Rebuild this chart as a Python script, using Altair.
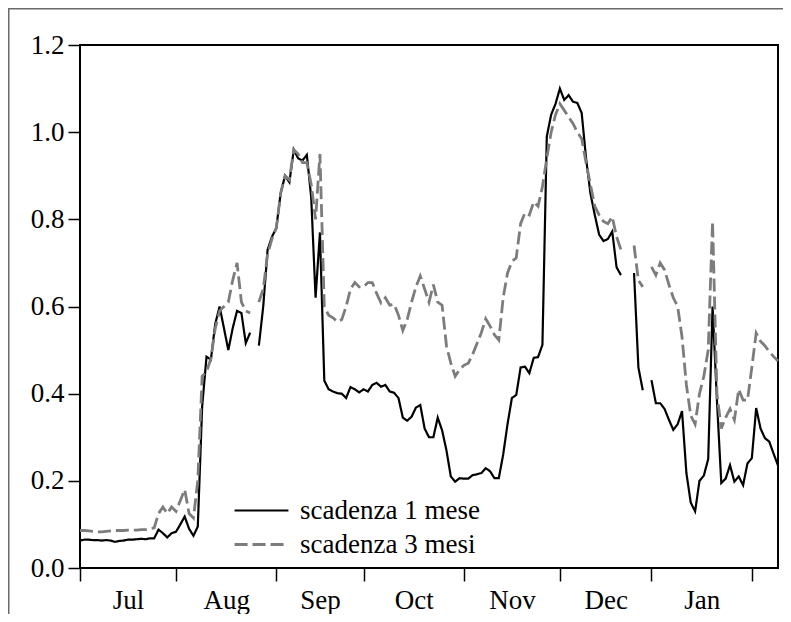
import altair as alt
import pandas as pd
import numpy as np

NA = np.nan

# business-day index (Jul 2007 -> early Feb 2008)
months = ["Jul", "Aug", "Sep", "Oct", "Nov", "Dec", "Jan"]
month_days = [22, 23, 20, 23, 22, 21, 23]

one_month = [
    0.063, 0.065, 0.065, 0.064, 0.064, 0.063, 0.064, 0.063, 0.060, 0.062,
    0.063, 0.065, 0.065, 0.066, 0.067, 0.066, 0.068, 0.068, 0.088, 0.080,
    0.070, 0.080, 0.083, 0.100, 0.118, 0.090, 0.074, 0.095, 0.370, 0.485,
    0.478, 0.560, 0.600, 0.550, 0.500, 0.550, 0.590, 0.585, 0.516, 0.540,
    NA, 0.510, 0.600, 0.730, 0.760, 0.780, 0.860, 0.900, 0.885, 0.960,
    0.940, 0.935, 0.948, 0.850, 0.620, 0.770, 0.430, 0.410, 0.405, 0.401,
    0.400, 0.390, 0.415, 0.410, 0.403, 0.410, 0.405, 0.420, 0.425, 0.416,
    0.420, 0.405, 0.402, 0.390, 0.345, 0.338, 0.347, 0.368, 0.374, 0.320,
    0.300, 0.300, 0.345, 0.316, 0.270, 0.210, 0.198, 0.206, 0.205, 0.205,
    0.213, 0.215, 0.218, 0.229, 0.222, 0.206, 0.206, 0.260, 0.330, 0.390,
    0.397, 0.460, 0.462, 0.447, 0.482, 0.484, 0.512, 0.990, 1.040, 1.065,
    1.100, 1.074, 1.085, 1.070, 1.067, 1.044, 0.940, 0.860, 0.810, 0.765,
    0.750, 0.755, 0.772, 0.690, 0.672, NA, NA, 0.677, 0.460, 0.408,
    NA, 0.431, 0.378, 0.378, 0.365, 0.340, 0.317, 0.330, 0.360, 0.218,
    0.150, 0.130, 0.200, 0.212, 0.250, 0.600, 0.385, 0.195, 0.205, 0.236,
    0.198, 0.210, 0.190, 0.240, 0.252, 0.367, 0.320, 0.298, 0.290, 0.262,
    0.235,
]

three_months = [
    0.086, 0.086, 0.085, 0.084, 0.083, 0.083, 0.084, 0.085, 0.086, 0.086,
    0.086, 0.087, 0.087, 0.087, 0.088, 0.088, 0.090, 0.092, 0.125, 0.140,
    0.125, 0.140, 0.130, 0.155, 0.180, 0.125, 0.115, 0.200, 0.440, 0.450,
    0.480, 0.550, 0.590, 0.600, 0.610, 0.660, 0.700, 0.610, 0.590, 0.585,
    NA, 0.610, 0.640, 0.720, 0.755, 0.780, 0.860, 0.900, 0.890, 0.960,
    0.950, 0.930, 0.930, 0.880, 0.800, 0.950, 0.600, 0.580, 0.574, 0.565,
    0.570, 0.600, 0.640, 0.655, 0.645, 0.645, 0.655, 0.655, 0.630, 0.608,
    0.620, 0.603, 0.605, 0.580, 0.545, 0.570, 0.610, 0.645, 0.670, 0.640,
    0.610, 0.650, 0.610, 0.603, 0.510, 0.470, 0.440, 0.455, 0.465, 0.470,
    0.490, 0.515, 0.540, 0.572, 0.555, 0.535, 0.523, 0.620, 0.677, 0.703,
    0.712, 0.790, 0.815, 0.810, 0.840, 0.830, 0.875, 0.940, 1.000, 1.040,
    1.065, 1.050, 1.035, 1.020, 1.000, 0.985, 0.930, 0.880, 0.830, 0.810,
    0.795, 0.790, 0.806, 0.760, 0.730, NA, NA, 0.740, 0.660, 0.645,
    NA, 0.691, 0.672, 0.700, 0.684, 0.650, 0.620, 0.600, 0.530, 0.420,
    0.350, 0.330, 0.400, 0.440, 0.500, 0.795, 0.400, 0.320, 0.345, 0.365,
    0.340, 0.410, 0.385, 0.385, 0.460, 0.539, 0.520, 0.510, 0.496, 0.485,
    0.475,
]

y_ticks = [0.0, 0.2, 0.4, 0.6, 0.8, 1.0, 1.2]
series_names = ["scadenza 1 mese", "scadenza 3 mesi"]

# month boundaries and label positions (in business-day index)
bounds = [0]
for d in month_days:
    bounds.append(bounds[-1] + d)
mids = [(bounds[k] + bounds[k + 1]) / 2 for k in range(len(months))]
tick_values = sorted(bounds + mids)

label_expr = ""
for m, v in zip(months, mids):
    label_expr += f"datum.value == {v} ? '{m}' : "
label_expr += "''"
bound_test = "indexof([" + ",".join(str(b) for b in bounds) + "], datum.value) >= 0"

n = len(one_month)
df = pd.DataFrame({
    "i": list(range(n)),
    series_names[0]: one_month,
    series_names[1]: three_months,
})

W, H = 698, 523
PAD = {"left": 72, "top": 37, "right": 5, "bottom": 46}
FONT = "Liberation Serif"

base = alt.Chart(df).transform_fold(series_names, as_=["serie", "val"])

legend_cfg = dict(
    title=None,
    orient="none",
    legendX=153,
    legendY=452,
    symbolType="stroke",
    symbolSize=2900,
    symbolStrokeWidth=2.8,
    clipHeight=27,
    rowPadding=6,
    labelOffset=10,
    labelLimit=0,
    labelFont=FONT,
    labelFontSize=27,
    labelColor="black",
    padding=0,
)

lines = base.mark_line(invalid="break-paths-filter-domains", strokeCap="butt").encode(
    x=alt.X(
        "i:Q",
        scale=alt.Scale(domain=[0, n - 1], nice=False, zero=False),
        axis=alt.Axis(
            values=tick_values,
            labelExpr=label_expr,
            tickOpacity={"condition": {"test": bound_test, "value": 1}, "value": 0},
            title=None,
            grid=False,
            domain=False,
            tickSize=13,
            tickWidth=1.5,
            tickColor="black",
            labelPadding=6,
            labelFont=FONT,
            labelFontSize=27,
            labelColor="black",
            labelFlush=False,
            labelOverlap=False,
        ),
    ),
    y=alt.Y(
        "val:Q",
        scale=alt.Scale(domain=[0, 1.2], nice=False, zero=True),
        axis=alt.Axis(
            values=y_ticks,
            format=".1f",
            title=None,
            grid=False,
            domain=False,
            tickSize=12,
            tickWidth=1.5,
            tickColor="black",
            labelPadding=4,
            labelFont=FONT,
            labelFontSize=27,
            labelColor="black",
            labelFlush=False,
            labelOverlap=False,
        ),
    ),
    color=alt.Color(
        "serie:N",
        scale=alt.Scale(domain=series_names, range=["black", "#7c7c7c"]),
        legend=alt.Legend(**legend_cfg),
    ),
    strokeDash=alt.StrokeDash(
        "serie:N",
        scale=alt.Scale(domain=series_names, range=[[1, 0], [13, 5]]),
        legend=alt.Legend(**legend_cfg),
    ),
    strokeWidth=alt.StrokeWidth(
        "serie:N",
        scale=alt.Scale(domain=series_names, range=[2.2, 2.8]),
        legend=None,
    ),
)

frame_df = pd.DataFrame({"k": [0]})
top_line = alt.Chart(frame_df).mark_rule(color="#6a6a6a", strokeWidth=1.5).encode(
    x=alt.value(-PAD["left"]), x2=alt.value(W + PAD["right"]), y=alt.value(-PAD["top"] + 0.75)
)
left_line = alt.Chart(frame_df).mark_rule(color="#6a6a6a", strokeWidth=1.5).encode(
    x=alt.value(-PAD["left"] + 0.75), y=alt.value(-PAD["top"]), y2=alt.value(H + PAD["bottom"])
)

chart = alt.layer(lines, top_line, left_line).properties(
    width=W,
    height=H,
    autosize=alt.AutoSizeParams(type="none"),
    padding=PAD,
    background="white",
).configure_view(
    stroke="black", strokeWidth=2
)

chart.save("out.html", embed_options={"renderer": "svg", "actions": False})
